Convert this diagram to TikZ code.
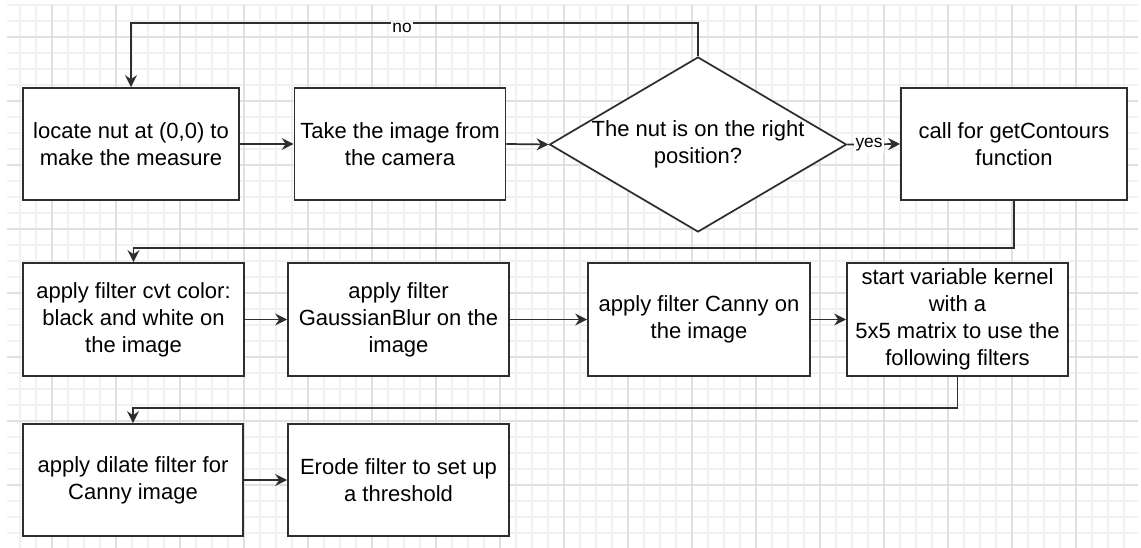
\documentclass[tikz,border=0pt]{standalone}
\usepackage{fontspec}
\setmainfont{Liberation Sans}
\usetikzlibrary{arrows.meta,shapes.geometric}
\definecolor{minorgrid}{HTML}{F1F1F1}
\definecolor{majorgrid}{HTML}{E0E0E0}
\definecolor{edgec}{HTML}{2E2E2E}
\begin{document}
\begin{tikzpicture}[x=0.75pt,y=-0.75pt,
  boxbase/.style={draw=edgec, fill=white, line width=1.3pt, inner sep=0pt, align=center,
    font=\fontsize{16.5pt}{20.25pt}\selectfont, text=black},
  procbox/.style={boxbase, rectangle},
  decbox/.style={boxbase, diamond, minimum width=222.75pt, minimum height=131.25pt},
  txt/.style={inner sep=0pt, align=center, font=\fontsize{16.5pt}{20.25pt}\selectfont, text=black},
  lbl/.style={fill=white, inner sep=1pt, font=\fontsize{13pt}{15pt}\selectfont, text=black},
  conn/.style={draw=edgec, line width=1.3pt, -{Stealth[length=9pt,width=9pt,inset=3pt]}},
  minorline/.style={draw=minorgrid, line width=0.8pt},
  majorline/.style={draw=majorgrid, line width=1pt}]
\useasboundingbox (0,0) rectangle (1141,548);
\fill[white] (0,0) rectangle (1141,548);
% grid
\foreach \x in {20,36,...,1124} \draw[minorline] (\x,5) -- (\x,548);
\foreach \y in {5,21,...,548} \draw[minorline] (7,\y) -- (1138,\y);
\foreach \x in {52,116,...,1076} \draw[majorline] (\x,5) -- (\x,548);
\foreach \y in {37,101,...,485} \draw[majorline] (7,\y) -- (1138,\y);
% row 1
\node[procbox, minimum width=162pt, minimum height=84pt] (A) at (131,144) {locate nut at (0,0) to\\make the measure};
\node[procbox, minimum width=158.25pt, minimum height=84pt] (B) at (400,144) {Take the image from\\the camera};
\node[decbox] (dia) at (698,144.5) {};
\node[txt] (diatext) at (dia.center) {The nut is on the right\\position?};
\node[procbox, minimum width=169.5pt, minimum height=84pt] (D) at (1014,144) {call for getContours\\function};
% row 2
\node[procbox, minimum width=165.75pt, minimum height=84.75pt] (E) at (133.5,319.5) {apply filter cvt color:\\black and white on\\the image};
\node[procbox, minimum width=165.75pt, minimum height=84.75pt] (F) at (398.5,319.5) {apply filter\\GaussianBlur on the\\image};
\node[procbox, minimum width=166.5pt, minimum height=84.75pt] (G) at (699,319.5) {apply filter Canny on\\the image};
\node[procbox, minimum width=165.75pt, minimum height=84.75pt] (H) at (957.5,319.5) {start variable kernel\\with a\\5x5 matrix to use the\\following filters};
% row 3
\node[procbox, minimum width=165pt, minimum height=84pt] (I) at (133,480) {apply dilate filter for\\Canny image};
\node[procbox, minimum width=165.75pt, minimum height=84pt] (J) at (398.5,480) {Erode filter to set up\\a threshold};
% connectors
\draw[conn] (dia.north) -- ++(0,-33) -| (A.north);
\node[lbl] (nolbl) at (402,28) {no};
\draw[conn] (A.east) -- (B.west);
\draw[conn] (B.east) -- (dia.west);
\draw[conn] (dia.east) -- (D.west);
\node[lbl] (yeslbl) at (869,145) {yes};
\draw[conn] (D.south) -- ++(0,47) -| (E.north);
\draw[conn] (E.east) -- (F.west);
\draw[conn] (F.east) -- (G.west);
\draw[conn] (G.east) -- (H.west);
\draw[conn] (H.south) -- ++(0,31) -| (I.north);
\draw[conn] (I.east) -- (J.west);
\end{tikzpicture}
\end{document}
